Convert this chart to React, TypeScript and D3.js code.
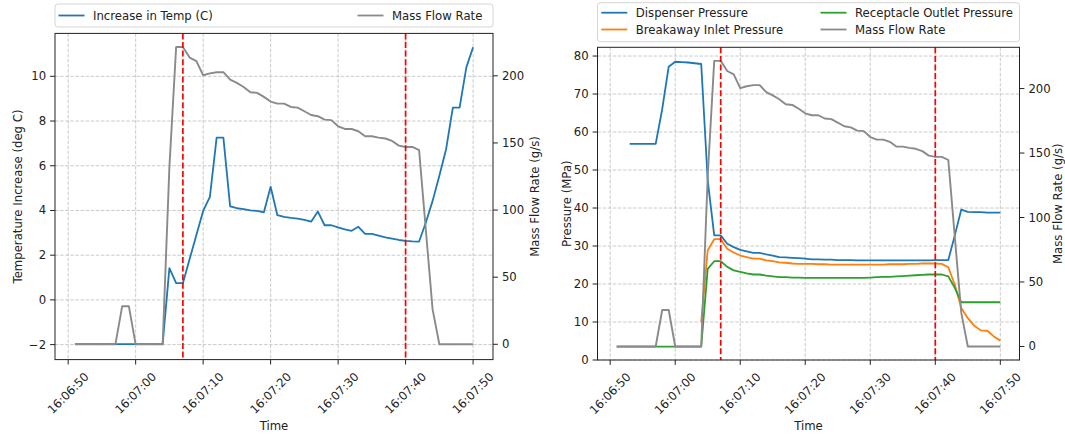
import React from 'react';
import * as d3 from 'd3';

// sample timestamps (one per second)
const times = [
  "16:06:51", "16:06:52", "16:06:53", "16:06:54", "16:06:55", "16:06:56", "16:06:57", "16:06:58", "16:06:59",
  "16:07:00", "16:07:01", "16:07:02", "16:07:03", "16:07:04", "16:07:05", "16:07:06", "16:07:07", "16:07:08", "16:07:09",
  "16:07:10", "16:07:11", "16:07:12", "16:07:13", "16:07:14", "16:07:15", "16:07:16", "16:07:17", "16:07:18", "16:07:19",
  "16:07:20", "16:07:21", "16:07:22", "16:07:23", "16:07:24", "16:07:25", "16:07:26", "16:07:27", "16:07:28", "16:07:29",
  "16:07:30", "16:07:31", "16:07:32", "16:07:33", "16:07:34", "16:07:35", "16:07:36", "16:07:37", "16:07:38", "16:07:39",
  "16:07:40", "16:07:41", "16:07:42", "16:07:43", "16:07:44", "16:07:45", "16:07:46", "16:07:47", "16:07:48", "16:07:49",
  "16:07:50",
];

const tempIncrease = [
  -1.98, -1.98, -1.98, -1.98, -1.98, -1.98, -1.98, -1.98, -1.98, -1.98, -1.98, -1.98, -1.98, -1.98,
  1.42, 0.75, 0.75, 1.83, 2.9, 3.98, 4.61, 7.26, 7.26, 4.18, 4.1, 4.06, 4.0, 3.98, 3.92, 5.06,
  3.79, 3.71, 3.67, 3.64, 3.58, 3.5, 3.95, 3.34, 3.34, 3.24, 3.15, 3.09, 3.27, 2.95, 2.95, 2.88,
  2.8, 2.74, 2.68, 2.64, 2.62, 2.61, 3.46, 4.43, 5.55, 6.74, 8.6, 8.6, 10.4, 11.3,
];

const massFlow = [
  0, 0, 0, 0, 0, 0, 0, 28.3, 28.3, 0, 0, 0, 0, 0,
  132, 221.5, 221.5, 213.6, 211, 200.4, 201.8, 202.7, 202.7, 197.2, 194.7, 191.7, 187.8, 187.3, 184.3, 180.8,
  179.3, 179.3, 176.8, 176.3, 173.6, 170.8, 169.9, 167.4, 167, 162.4, 160.4, 160.4, 158.7, 155, 155, 154,
  153.3, 151.5, 148, 147, 147, 144.6, 85, 26, 0, 0, 0, 0, 0, 0,
];

const dispenserPressure = [
  null, null, 56.9, 56.9, 56.9, 56.9, 56.9, 66, 77.2, 78.5, 78.4, 78.3, 78.1, 77.9,
  47.3, 32.8, 32.8, 30.6, 29.7, 29.0, 28.6, 28.2, 28.2, 27.8, 27.5, 27.1, 27.0, 26.9, 26.8, 26.7,
  26.5, 26.5, 26.4, 26.4, 26.3, 26.3, 26.3, 26.2, 26.2, 26.2, 26.2, 26.2, 26.2, 26.2, 26.2, 26.2,
  26.2, 26.2, 26.2, 26.3, 26.3, 26.3, 32.8, 39.6, 39.0, 38.9, 38.9, 38.8, 38.8, 38.8,
];

const breakawayPressure = [
  null, null, null, null, null, null, null, null, null, null, null, null, null, 10.0,
  28.9, 31.8, 31.8, 29.3, 28.3, 27.5, 27.1, 26.7, 26.7, 26.2, 26.0, 25.7, 25.6, 25.4, 25.3, 25.3,
  25.3, 25.2, 25.2, 25.1, 25.1, 25.1, 25.1, 25.1, 25.1, 25.1, 25.1, 25.1, 25.2, 25.2, 25.2, 25.3,
  25.3, 25.4, 25.4, 25.4, 25.3, 24.4, 19.8, 13.7, 11.0, 9.0, 7.8, 7.7, 6.2, 5.1,
];

const receptaclePressure = [
  3.5, 3.5, 3.5, 3.5, 3.5, 3.5, 3.5, 3.5, 3.5, 3.5, 3.5, 3.5, 3.5, 3.5,
  24.0, 26.0, 26.0, 24.5, 23.6, 23.2, 22.8, 22.5, 22.5, 22.2, 22.0, 21.8, 21.8, 21.7, 21.7, 21.6,
  21.6, 21.6, 21.6, 21.6, 21.6, 21.6, 21.6, 21.6, 21.6, 21.7, 21.8, 21.9, 21.9, 22.0, 22.1, 22.2,
  22.3, 22.4, 22.5, 22.5, 22.5, 22.0, 19.0, 15.2, 15.2, 15.2, 15.2, 15.2, 15.2, 15.2,
];

const timeTicks = ["16:06:50", "16:07:00", "16:07:10", "16:07:20", "16:07:30", "16:07:40", "16:07:50"];
const eventTimes = ["16:07:07", "16:07:40"];
const tempTicks = [-2, 0, 2, 4, 6, 8, 10];
const flowTicks = [0, 50, 100, 150, 200];
const pressureTicks = [0, 10, 20, 30, 40, 50, 60, 70, 80];

const FONT = "DejaVu Sans, sans-serif";
const FS = 11.7;
const TICK = 4.9;
const GRID = "#c4c4c4";
const FLOW_COLOR = "#8a8a8a";

const parse = d3.timeParse("%H:%M:%S");
const T = times.map(s => parse(s) as Date);

type Series = { name: string; color: string; values: (number | null)[] };

type PanelProps = {
  box: { l: number; r: number; t: number; b: number };
  leftDomain: [number, number];
  leftTicks: number[];
  leftLabel: string;
  leftLabelX: number;
  series: Series[];
  flowDomain: [number, number];
  flowLabelX: number;
  legend: { x: number; y: number; w: number; h: number; cols: number[]; rows: number[]; items: Series[] };
};

function Panel(props: PanelProps) {
  const { box, leftDomain, leftTicks, series, flowDomain, legend } = props;
  const x = d3.scaleTime()
    .domain([new Date(+T[0] - 2950), new Date(+T[T.length - 1] + 2950)])
    .range([box.l, box.r]);
  const yL = d3.scaleLinear().domain(leftDomain).range([box.b, box.t]);
  const yR = d3.scaleLinear().domain(flowDomain).range([box.b, box.t]);

  const lineL = (vals: (number | null)[]) =>
    d3.line<number | null>()
      .defined(d => d != null)
      .x((d, i) => x(T[i]))
      .y(d => yL(d as number))(vals) || "";
  const lineR = d3.line<number>().x((d, i) => x(T[i])).y(d => yR(d))(massFlow) || "";

  const midY = (box.t + box.b) / 2;
  const midX = (box.l + box.r) / 2;

  return (
    <g fontFamily={FONT} fontSize={FS} fill="#222">
      {/* grid */}
      {timeTicks.map(s => {
        const xx = x(parse(s) as Date);
        return <line key={"gx" + s} x1={xx} x2={xx} y1={box.t} y2={box.b} stroke={GRID} strokeWidth={0.9} strokeDasharray="3.5,1.6" />;
      })}
      {leftTicks.map(v => (
        <line key={"gy" + v} x1={box.l} x2={box.r} y1={yL(v)} y2={yL(v)} stroke={GRID} strokeWidth={0.9} strokeDasharray="3.5,1.6" />
      ))}

      {/* data */}
      {series.map(s => (
        <path key={s.name} d={lineL(s.values)} fill="none" stroke={s.color} strokeWidth={1.8} strokeLinejoin="round" />
      ))}
      <path d={lineR} fill="none" stroke={FLOW_COLOR} strokeWidth={1.9} strokeLinejoin="round" />

      {eventTimes.map(s => {
        const xx = x(parse(s) as Date);
        return <line key={"ev" + s} x1={xx} x2={xx} y1={box.t} y2={box.b} stroke="#ff0000" strokeWidth={1.7} strokeDasharray="6,2.6" />;
      })}

      {/* frame */}
      <rect x={box.l} y={box.t} width={box.r - box.l} height={box.b - box.t} fill="none" stroke="#222" strokeWidth={1} />

      {/* x axis */}
      {timeTicks.map(s => {
        const xx = x(parse(s) as Date);
        return (
          <g key={"xt" + s}>
            <line x1={xx} x2={xx} y1={box.b} y2={box.b + TICK} stroke="#222" />
            <text transform={`translate(${xx},${box.b + 33.5}) rotate(-45)`} textAnchor="middle" dominantBaseline="central">{s}</text>
          </g>
        );
      })}
      <text x={midX} y={430} textAnchor="middle">Time</text>

      {/* left axis */}
      {leftTicks.map(v => (
        <g key={"yl" + v}>
          <line x1={box.l - TICK} x2={box.l} y1={yL(v)} y2={yL(v)} stroke="#222" />
          <text x={box.l - TICK - 4} y={yL(v)} textAnchor="end" dominantBaseline="central">{v < 0 ? "\u2212" + Math.abs(v) : v}</text>
        </g>
      ))}
      <text transform={`translate(${props.leftLabelX},${midY}) rotate(-90)`} textAnchor="middle" dominantBaseline="central">{props.leftLabel}</text>

      {/* right axis */}
      {flowTicks.map(v => (
        <g key={"yr" + v}>
          <line x1={box.r} x2={box.r + TICK} y1={yR(v)} y2={yR(v)} stroke="#222" />
          <text x={box.r + TICK + 4} y={yR(v)} textAnchor="start" dominantBaseline="central">{v}</text>
        </g>
      ))}
      <text transform={`translate(${props.flowLabelX},${midY}) rotate(-90)`} textAnchor="middle" dominantBaseline="central">Mass Flow Rate (g/s)</text>

      {/* legend */}
      <rect x={legend.x} y={legend.y} width={legend.w} height={legend.h} rx={3} fill="#fff" fillOpacity={0.8} stroke="#d6d6d6" strokeWidth={1} />
      {legend.items.map((it, i) => {
        const col = Math.floor(i / legend.rows.length);
        const row = i % legend.rows.length;
        const lx = legend.cols[col];
        const ly = legend.rows[row];
        return (
          <g key={"lg" + it.name}>
            <line x1={lx} x2={lx + 26} y1={ly} y2={ly} stroke={it.color} strokeWidth={1.8} />
            <text x={lx + 34.5} y={ly} dominantBaseline="central">{it.name}</text>
          </g>
        );
      })}
    </g>
  );
}

export default function App() {
  const flowSeries: Series = { name: "Mass Flow Rate", color: FLOW_COLOR, values: massFlow };
  const temp: Series = { name: "Increase in Temp (C)", color: "#1f77b4", values: tempIncrease };
  const disp: Series = { name: "Dispenser Pressure", color: "#1f77b4", values: dispenserPressure };
  const brk: Series = { name: "Breakaway Inlet Pressure", color: "#ff7f0e", values: breakawayPressure };
  const rec: Series = { name: "Receptacle Outlet Pressure", color: "#2ca02c", values: receptaclePressure };

  return (
    <svg width={1065} height={436} style={{ position: "absolute", left: 0, top: 0, background: "#fff" }}>
      <Panel
        box={{ l: 55, r: 493, t: 33.4, b: 359.6 }}
        leftDomain={[-2.67, 11.92]}
        leftTicks={tempTicks}
        leftLabel="Temperature Increase (deg C)"
        leftLabelX={18}
        series={[temp]}
        flowDomain={[-11.4, 231.6]}
        flowLabelX={535}
        legend={{ x: 55, y: 4, w: 438, h: 23, cols: [58.5, 357.5], rows: [15.5], items: [temp, flowSeries] }}
      />
      <Panel
        box={{ l: 597.5, r: 1019.5, t: 47.3, b: 360 }}
        leftDomain={[0, 82.3]}
        leftTicks={pressureTicks}
        leftLabel="Pressure (MPa)"
        leftLabelX={567}
        series={[disp, brk, rec]}
        flowDomain={[-10.5, 232]}
        flowLabelX={1058}
        legend={{ x: 597.5, y: 2.7, w: 422, h: 39, cols: [601.3, 820.5], rows: [12.7, 29.5], items: [disp, brk, rec, flowSeries] }}
      />
    </svg>
  );
}
